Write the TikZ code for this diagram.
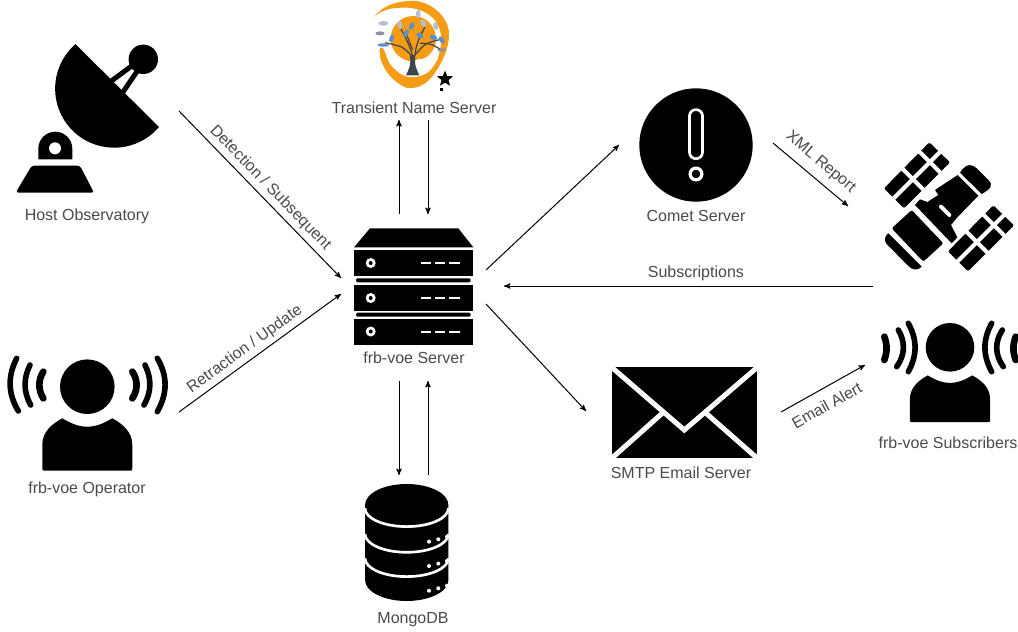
\documentclass[tikz,border=0pt]{standalone}
\usepackage{fontspec}
\setmainfont{Liberation Sans}
\usetikzlibrary{arrows}

\definecolor{labelgrey}{HTML}{4A4A4A}
\definecolor{tnsorange}{HTML}{F69C14}
\definecolor{leafblue}{HTML}{5F8FC8}
\definecolor{leafpale}{HTML}{B3BEDB}
\definecolor{leafgrey}{HTML}{8A93A6}
\definecolor{barkgrey}{HTML}{3C4450}

\tikzset{
  person/.pic={
    \fill (0,0) circle (27.3);
    \fill (-45,81) -- (-45,58) .. controls (-45,45) and (-35,37) .. (-25,31.6)
      .. controls (-15,37.5) and (-8,40) .. (0,40)
      .. controls (8,40) and (15,37.5) .. (25,31.6)
      .. controls (35,37) and (45,45) .. (45,58) -- (45,81)
      .. controls (45,84) .. (42,84) -- (-42,84) .. controls (-45,84) .. cycle;
  },
  rack/.pic={
    \fill (0,0) rectangle (119,26);
    \fill[white] (16.7,13) circle (5);
    \fill (16.7,13) circle (2);
    \foreach \dashx in {67,81,95.3}
      \draw[white,line width=1.5pt] (\dashx,13) -- ++(10.3,0);
  },
  satpanel/.pic={
    \fill[rounded corners=1pt] (178,37) -- (240,97) -- (102,235) -- (42,175) -- cycle;
    \draw[white,line width=3pt] (212,64) -- (60,216);
    \draw[white,line width=3pt] (145,62) -- (214,131);
    \draw[white,line width=3pt] (94,113) -- (163,182);
  }
}

\begin{document}
\begin{tikzpicture}[x=0.75pt,y=-0.75pt]

    \tikzstyle{iconlabel}=[text=labelgrey,font=\fontsize{12}{14}\selectfont,inner sep=0pt]
    \tikzstyle{edgelabel}=[text=labelgrey,font=\fontsize{12}{14}\selectfont,inner sep=0pt,sloped]
    \tikzstyle{flow}=[->,>=stealth',line width=0.75pt,black,shorten >=0pt]
    \tikzstyle{zgrid}=[x=0.25pt,y=-0.25pt]
    \tikzstyle{wave}=[line width=4.2pt,line cap=round]
    \tikzstyle{innerwave}=[line width=5pt,line cap=round]

    \useasboundingbox (0,0) rectangle (1018,632);

    % host observatory
    \fill (159,127) arc[start angle=40.5,end angle=229,radius=59] -- cycle;
    \draw[line width=3.75pt] (110,82) -- (133,65);
    \draw[line width=3.75pt] (123,92) -- (138,70);
    \fill (143.3,59.3) circle (14.7);
    \fill[white] (55,149) circle (24);
    \fill (38.3,159.3) -- (38.3,148.7) arc[start angle=180,end angle=360,radius=17] -- (72.3,159.3) -- cycle;
    \fill[white] (55,148.3) circle (6);
    \fill[rounded corners=2pt] (31.7,165.7) -- (80,165.7) -- (94,192.7) -- (15.7,192.7) -- cycle;

    % operator, waves bend outwards
    \pic (operatorbody) at (87.3,386.7) {person};
    \begin{scope}[shift={(0,340)},zgrid]
      \draw[innerwave] (130,95) .. controls (114,120) and (114,150) .. (130,175);
      \draw[wave] (90,75) .. controls (70,115) and (70,155) .. (92,195);
      \draw[wave] (50,55) .. controls (23,108) and (23,160) .. (55,213);
      \draw[innerwave] (397,95) .. controls (414,120) and (414,150) .. (397,175);
      \draw[wave] (435,75) .. controls (455,115) and (455,155) .. (432,195);
      \draw[wave] (472,55) .. controls (503,108) and (503,160) .. (472,215);
    \end{scope}

    % transient name server logo
    \begin{scope}[shift={(370,0)},zgrid]
      \fill[tnsorange] plot[smooth cycle,tension=0.6] coordinates {(12,50) (45,22) (90,6) (150,5) (205,35) (236,90) (224,165) (175,242) (115,264) (60,228) (33,180) (30,145) (42,150) (62,195) (110,230) (170,220) (205,170) (212,100) (185,50) (130,25) (70,25) (35,35)};
      \fill[tnsorange] (130,116) circle (68);
      \fill[white] (143,178) .. controls (165,180) and (185,165) .. (199,135) -- (203,180) -- (130,218) -- (115,192) -- cycle;
      \draw[barkgrey,line width=0.9pt] (128,170) .. controls (120,140) .. (92,85);
      \draw[barkgrey,line width=0.9pt] (122,165) .. controls (100,140) .. (45,128);
      \draw[barkgrey,line width=0.9pt] (135,165) .. controls (140,130) .. (165,80);
      \draw[barkgrey,line width=0.9pt] (135,165) .. controls (165,130) .. (212,118);
      \draw[barkgrey,line width=0.9pt] (128,150) -- (108,100);
      \draw[barkgrey,line width=0.9pt] (150,130) .. controls (180,130) .. (215,150);
      \fill[barkgrey] (120,165) -- (136,165) .. controls (134,195) .. (148,226) -- (108,226) .. controls (122,195) .. cycle;
      \foreach \lx/\ly/\lrot/\lcol in {145/42/0/leafpale,90/75/10/leafpale,125/78/-30/leafblue,160/70/30/leafpale,197/78/10/leafpale,65/115/-20/leafblue,108/100/-30/leafblue,150/107/60/leafblue,215/120/35/leafblue,190/112/70/leafblue}
        \fill[\lcol,rotate around={\lrot:(\lx,\ly)}] (\lx,\ly) ellipse (7 and 12);
      \fill[leafpale] (40,70) ellipse (15 and 7);
      \fill[leafgrey] (30,100) ellipse (14 and 6);
      \fill[leafblue] (40,135) ellipse (18 and 5);
      \fill[leafgrey] (215,150) ellipse (13 and 5);
      \fill (225,212) -- (231.5,228) -- (249,229) -- (235.5,240) -- (240,257) -- (225,248) -- (210,257) -- (214.5,240) -- (201,229) -- (218.5,228) -- cycle;
      \fill (210,263) rectangle (220,273);
    \end{scope}

    % frb-voe server
    \fill (370,228.3) -- (458.3,228.3) -- (473.3,247.3) -- (354,247.3) -- cycle;
    \pic (rackone) at (354,250) {rack};
    \fill[rounded corners=1pt] (356,278.3) rectangle (470.7,282.3);
    \pic (racktwo) at (354,285) {rack};
    \fill[rounded corners=1pt] (356,312.7) rectangle (470.7,316.7);
    \pic (rackthree) at (354,318.5) {rack};

    % mongodb
    \fill (365,505) -- (365,580) arc[start angle=180,end angle=0,x radius=41.7,y radius=21] -- (448.4,505) arc[start angle=0,end angle=-180,x radius=41.7,y radius=21] -- cycle;
    \foreach \stacky in {508.3,534,558.3}
      \draw[white,line width=2pt] (365,\stacky) arc[start angle=180,end angle=0,x radius=41.7,y radius=18.3];
    \foreach \stacky in {0,24.3,49}
      \foreach \dotx/\doty in {429/541.7,438.3/539.3,447/536.7}
        \fill[white] (\dotx,\doty+\stacky) circle (2);

    % comet server
    \fill (696,145) circle (56.7);
    \draw[white,line width=2pt,rounded corners=4.8pt] (689.5,109.6) rectangle (702.5,158.7);
    \draw[white,line width=2.4pt] (696,174) circle (5.9);

    % satellite
    \begin{scope}[shift={(870,130)},zgrid]
      \fill (270,128) .. controls (290,95) and (310,105) .. (320,115) -- (355,150) .. controls (370,165) and (365,175) .. (335,192) -- cycle;
      \fill (263,135) -- (325,197) -- (262,262) -- (243,285) -- (262,322) -- (245,340) -- (135,225) -- (150,208) -- (172,216) -- (205,195) -- (195,180) -- cycle;
      \pic (panelupper) at (0,0) {satpanel};
      \pic (panellower) at (192,189) {satpanel};
      \draw[white,line width=3pt,line cap=round] (213,230) -- (238,255);
      \fill[rounded corners=1.5pt] (65,295) -- (125,240) -- (220,340) -- (160,395) -- cycle;
      \fill (55,310) -- (155,410) .. controls (140,425) and (125,418) .. (115,408) -- (50,342) .. controls (40,330) and (45,318) .. cycle;
    \end{scope}

    % subscribers, waves bend inwards
    \pic[scale=0.89] (subscriberbody) at (950,347.3) {person};
    \begin{scope}[shift={(870,310)},zgrid]
      \draw[innerwave] (43,80) .. controls (52,105) and (52,125) .. (43,150);
      \draw[wave] (85,60) .. controls (106,95) and (106,135) .. (80,170);
      \draw[wave] (115,40) .. controls (142,90) and (142,135) .. (115,185);
      \draw[innerwave] (437,80) .. controls (428,105) and (428,125) .. (437,150);
      \draw[wave] (397,60) .. controls (374,95) and (374,135) .. (400,170);
      \draw[wave] (365,40) .. controls (338,90) and (338,135) .. (365,185);
    \end{scope}

    % smtp envelope
    \begin{scope}
      \clip (611.7,367.3) rectangle (757.3,458.3);
      \fill (611.7,367.3) rectangle (757.3,458.3);
      \draw[white,line width=3.75pt] (611.7,367.3) -- (684.3,430) -- (757.3,367.3);
      \draw[white,line width=3.75pt] (611.7,458.3) -- (663.3,412.3);
      \draw[white,line width=3.75pt] (757.3,458.3) -- (705,412.3);
    \end{scope}

    % labels
    \node[iconlabel] (observatory) at (87,216) {Host Observatory};
    \node[iconlabel] (operator)    at (87,489) {frb-voe Operator};
    \node[iconlabel] (tns)         at (414,108) {Transient Name Server};
    \node[iconlabel] (server)      at (414,358) {frb-voe Server};
    \node[iconlabel] (mongo)       at (413,620) {MongoDB};
    \node[iconlabel] (comet)       at (696,216) {Comet Server};
    \node[iconlabel] (smtp)        at (681,473) {SMTP Email Server};
    \node[iconlabel] (subscribers) at (948,443) {frb-voe Subscribers};

    % connector ends
    \coordinate (obsout)    at (179,111);
    \coordinate (srvdetect) at (341,278);
    \coordinate (opout)     at (179,412);
    \coordinate (srvretract) at (341,294);
    \coordinate (srvtnsup)  at (399,214);
    \coordinate (tnsin)     at (399,120);
    \coordinate (tnsout)    at (428,120);
    \coordinate (srvtnsdn)  at (428,214);
    \coordinate (srvmgdn)   at (399,381);
    \coordinate (mgin)      at (399,475);
    \coordinate (mgout)     at (428,475);
    \coordinate (srvmgup)   at (428,381);
    \coordinate (srvcomet)  at (486,270);
    \coordinate (cometin)   at (619,145);
    \coordinate (srvsmtp)   at (486,304);
    \coordinate (smtpin)    at (586,411);
    \coordinate (cometout)  at (773,143);
    \coordinate (satin)     at (848,206);
    \coordinate (satout)    at (873,286);
    \coordinate (srvsubs)   at (504,286);
    \coordinate (smtpout)   at (781,412);
    \coordinate (subsin)    at (865,365);

    \path (obsout)   edge[flow] node[edgelabel,pos=0.51,above=3pt] (detectlbl) {Detection / Subsequent} (srvdetect)
          (opout)    edge[flow] node[edgelabel,pos=0.45,above=3pt] (retractlbl) {Retraction / Update} (srvretract)
          (srvtnsup) edge[flow] (tnsin)
          (tnsout)   edge[flow] (srvtnsdn)
          (srvmgdn)  edge[flow] (mgin)
          (mgout)    edge[flow] (srvmgup)
          (srvcomet) edge[flow] (cometin)
          (srvsmtp)  edge[flow] (smtpin)
          (cometout) edge[flow] node[edgelabel,above=6pt] (xmllbl) {XML Report} (satin)
          (satout)   edge[flow] node[edgelabel,pos=0.48,above=3.5pt] (subslbl) {Subscriptions} (srvsubs)
          (smtpout)  edge[flow] node[edgelabel,pos=0.45,below=7.5pt] (alertlbl) {Email Alert} (subsin)
    ;
\end{tikzpicture}
\end{document}
